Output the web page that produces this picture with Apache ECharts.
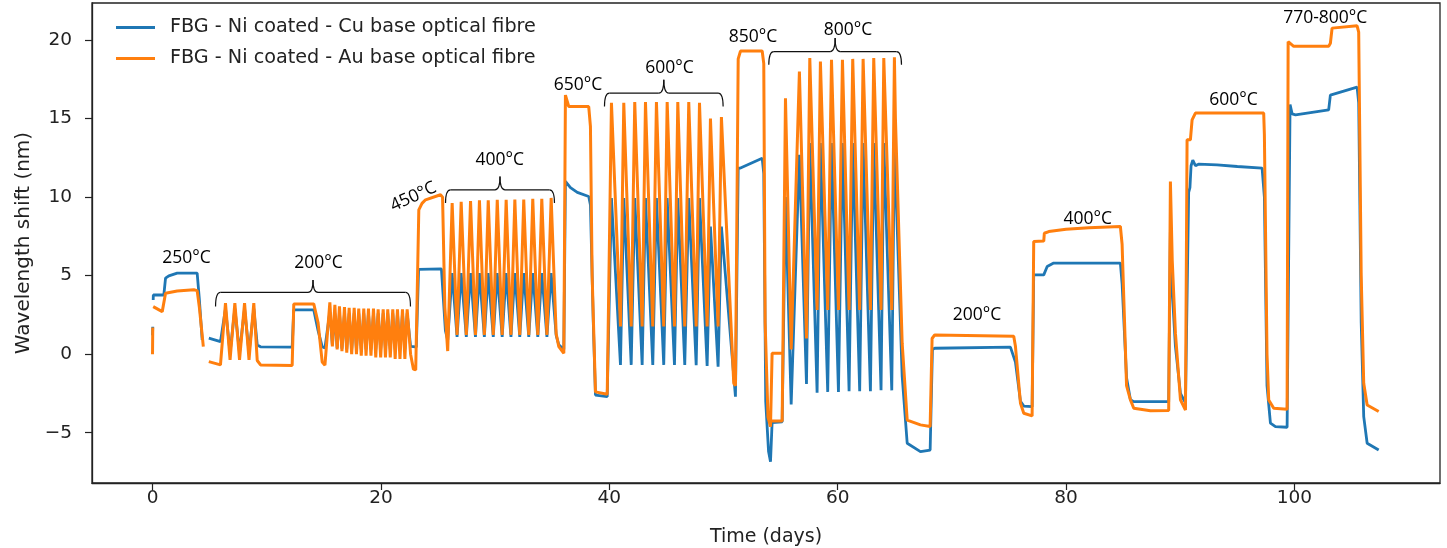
<!DOCTYPE html>
<html><head><meta charset="utf-8">
<script src="https://cdn.jsdelivr.net/npm/echarts@6/dist/echarts.min.js"></script>
<style>html,body{margin:0;padding:0;background:#fff}#c{width:1447px;height:548px}</style>
</head><body><div id="c"></div>
<script>
// ---- axis ticks ----
const xTicks = [0, 20, 40, 60, 80, 100];
const yTicks = [-5, 0, 5, 10, 15, 20];
const seriesNames = ['FBG - Ni coated - Cu base optical fibre', 'FBG - Ni coated - Au base optical fibre'];

// ---- Cu base fibre: [day, wavelength shift nm] ----
const cuData = [
 [0.00,1.2],[0.02,1.75],['-','-'],[0.06,3.45],[0.07,3.77],[0.99,3.77],[1.14,4.84],[1.43,4.99],[2.16,5.16],[3.91,5.16],[4.10,3.5],[4.35,0.91],['-','-'],
 [4.93,1.02],[5.95,0.80],[6.10,0.80],
 [6.39,2.9],[6.79,0.1],[7.21,2.9],[7.62,0.1],[8.06,2.9],[8.45,0.1],[8.87,2.9],
 [9.17,0.59],[9.46,0.47],[12.23,0.45],[12.37,2.82],[14.12,2.82],[14.5,1.5],[14.86,0.48],[15.1,0.4],
 [15.53,2.7],[15.75,0.6],[15.97,2.6],[16.17,0.4],[16.37,2.6],[16.59,0.35],[16.81,2.6],[17.01,0.3],[17.22,2.6],[17.44,0.3],[17.66,2.6],[17.86,0.3],
 [18.06,2.6],[18.28,0.3],[18.50,2.6],[18.70,0.3],[18.91,2.6],[19.13,0.3],[19.35,2.6],[19.55,0.3],[19.76,2.6],[19.98,0.3],[20.20,2.6],[20.40,0.3],
 [20.60,2.6],[20.82,0.3],[21.04,2.6],[21.25,0.3],[21.45,2.6],[21.67,0.3],[21.89,2.6],[22.10,0.3],[22.30,2.6],
 [22.6,0.5],[22.85,0.48],[23.1,0.45],
 [23.3,5.4],[25.3,5.43],[25.45,5.4],[25.65,1.5],[25.85,0.9],
 [26.24,5.16],[26.67,1.1],[27.03,5.16],[27.48,1.1],[27.85,5.16],[28.28,1.1],[28.63,5.16],[29.06,1.1],[29.40,5.16],[29.84,1.1],[30.19,5.16],[30.62,1.1],
 [30.97,5.16],[31.39,1.1],[31.73,5.16],[32.16,1.1],[32.51,5.16],[32.95,1.1],[33.30,5.16],[33.74,1.1],[34.09,5.16],[34.54,1.1],[34.91,5.16],
 [35.35,1.2],[35.58,0.6],[36.02,0.3],
 [36.16,11.0],[36.6,10.6],[37.2,10.3],[38.20,10.04],[38.35,9.5],[38.6,2.0],[38.79,-2.6],[39.82,-2.7],
 [40.19,9.94],[40.98,-0.68],[41.27,9.94],[41.92,-0.68],[42.23,9.94],[42.88,-0.68],[43.17,9.94],[43.81,-0.68],[44.13,9.94],[44.77,-0.68],
 [45.07,9.94],[45.71,-0.68],[46.00,9.94],[46.61,-0.68],[46.96,9.94],[47.61,-0.7],[47.90,9.94],[48.57,-0.75],[48.86,8.13],[49.53,-0.8],[49.82,8.13],
 [51.05,-2.7],
 [51.29,11.85],[51.49,11.85],[53.39,12.48],[53.53,11.5],[53.7,-3.0],[53.95,-6.2],[54.12,-6.84],[54.26,-4.35],[55.14,-4.3],
 [55.43,10.0],[55.93,-3.2],[56.65,12.7],[57.27,-1.9],[57.56,13.44],[58.20,-2.45],[58.49,13.44],[59.13,-2.4],[59.46,13.44],[60.07,-2.4],
 [60.42,13.44],[61.0,-2.35],[61.32,13.44],[61.93,-2.35],[62.23,13.44],[62.87,-2.35],[63.16,13.44],[63.8,-2.3],[64.04,13.44],[64.74,-2.3],[64.97,13.44],
 [65.65,-1.4],[66.09,-5.67],[67.25,-6.2],[68.1,-6.1],
 [68.3,0.3],[68.5,0.38],[75.13,0.45],[75.57,-0.5],[76.01,-3.0],[76.3,-3.3],[77.03,-3.34],
 [77.17,5.05],[78.05,5.05],[78.35,5.58],[78.92,5.8],[84.76,5.8],[84.91,4.5],[85.3,-1.5],[85.64,-2.9],[85.93,-3.02],[88.99,-3.02],
 [89.14,8.0],[89.3,4.0],[89.58,0.5],[90.02,-2.5],[90.46,-3.1],
 [90.6,-3.0],[90.74,10.3],[90.85,10.6],[90.95,12.0],[91.1,12.35],[91.33,12.0],[91.6,12.1],[93.23,12.06],[95.0,11.95],[97.17,11.85],
 [97.37,10.0],[97.6,-2.0],[97.9,-4.39],[98.34,-4.61],[99.36,-4.65],
 [99.45,-4.6],[99.62,15.9],[99.8,15.3],[100.1,15.24],[103.0,15.56],[103.15,16.5],[103.3,16.62],[105.49,17.0],
 [105.63,16.0],[105.85,2.0],[106.07,-3.97],[106.37,-5.67],[107.38,-6.1]
];

// ---- Au base fibre: [day, wavelength shift nm] ----
const auData = [
 [0.00,0.0],[0.02,1.7],['-','-'],[0.06,3.03],[0.85,2.71],[0.99,2.75],[1.14,3.88],[2.16,4.02],[3.62,4.1],[3.91,4.05],[4.10,3.0],[4.45,0.48],['-','-'],
 [4.93,-0.47],[5.95,-0.68],[6.10,-0.68],
 [6.39,3.25],[6.79,-0.36],[7.21,3.25],[7.62,-0.36],[8.06,3.25],[8.45,-0.36],[8.87,3.25],
 [9.17,-0.4],[9.46,-0.68],[12.23,-0.72],[12.37,3.2],[14.12,3.2],[14.5,2.0],[14.86,-0.5],[15.1,-0.7],
 [15.53,3.3],[15.75,0.5],[15.97,3.15],[16.17,0.3],[16.37,3.05],[16.59,0.2],[16.81,3.0],[17.01,0.1],[17.22,2.95],[17.44,0.0],[17.66,2.95],[17.86,0.0],
 [18.06,2.9],[18.28,-0.1],[18.50,2.9],[18.70,-0.1],[18.91,2.9],[19.13,-0.1],[19.35,2.9],[19.55,-0.2],[19.76,2.85],[19.98,-0.2],[20.20,2.85],[20.40,-0.2],
 [20.60,2.85],[20.82,-0.2],[21.04,2.85],[21.25,-0.3],[21.45,2.85],[21.67,-0.3],[21.89,2.85],[22.10,-0.3],[22.30,2.85],
 [22.6,0.0],[22.85,-0.95],[23.05,-1.0],
 [23.32,9.19],[23.6,9.6],[23.91,9.83],[25.22,10.15],[25.4,10.0],[25.6,3.0],[25.85,0.2],
 [26.24,9.62],[26.67,1.23],[27.03,9.7],[27.48,1.23],[27.85,9.75],[28.28,1.23],[28.63,9.8],[29.06,1.23],[29.40,9.8],[29.84,1.23],[30.19,9.83],[30.62,1.23],
 [30.97,9.83],[31.39,1.23],[31.73,9.85],[32.16,1.23],[32.51,9.85],[32.95,1.23],[33.30,9.9],[33.74,1.23],[34.09,9.9],[34.54,1.23],[34.91,9.95],
 [35.35,1.3],[35.58,0.48],[36.02,0.06],
 [36.16,16.5],[36.45,15.77],[38.20,15.77],[38.35,14.5],[38.5,5.0],[38.79,-2.4],[39.82,-2.55],
 [40.19,16.0],[40.98,1.76],[41.27,16.0],[41.92,1.76],[42.23,16.05],[42.88,1.76],[43.17,16.05],[43.81,1.76],[44.13,16.05],[44.77,1.76],
 [45.07,16.05],[45.71,1.76],[46.00,16.05],[46.61,1.76],[46.96,16.05],[47.61,1.76],[47.90,16.0],[48.57,1.76],[48.86,15.0],[49.53,1.76],[49.82,15.1],
 [50.90,-1.85],[51.05,-2.0],
 [51.29,18.8],[51.49,19.3],[53.39,19.3],[53.53,18.5],[53.65,2.0],[53.9,-4.0],[54.12,-4.61],
 [54.26,0.06],[55.14,0.06],['-','-'],[54.26,-4.25],[55.14,-4.25],
 [55.43,16.3],[55.93,0.3],[56.65,18.0],[57.27,1.0],[57.56,18.85],[58.20,2.82],[58.49,18.64],[59.13,2.82],[59.46,18.75],[60.07,2.82],
 [60.42,18.75],[61.0,2.82],[61.32,18.8],[61.93,2.82],[62.23,18.8],[62.87,2.82],[63.16,18.85],[63.8,2.82],[64.04,18.85],[64.74,2.82],[64.97,18.9],
 [65.06,15.0],[65.65,0.7],[66.09,-4.2],[67.25,-4.5],[68.1,-4.6],
 [68.27,1.0],[68.5,1.23],[75.42,1.15],[75.57,0.5],[76.01,-3.12],[76.30,-3.76],[77.03,-3.93],
 [77.17,7.17],[78.05,7.2],[78.1,7.7],[78.49,7.81],[80.0,7.95],[82.0,8.05],[84.76,8.13],[84.91,7.0],[85.3,-2.0],[85.64,-2.91],[85.93,-3.44],[87.39,-3.6],[88.99,-3.59],
 [89.14,11.0],[89.3,6.0],[89.58,1.34],[90.02,-2.9],[90.46,-3.55],
 [90.6,13.65],[90.89,13.65],[91.04,14.92],[91.33,15.35],[97.31,15.35],[97.37,14.0],[97.6,0.0],[97.75,-2.91],[98.19,-3.44],[99.36,-3.5],
 [99.45,19.9],[99.94,19.6],[103.0,19.6],[103.15,19.8],[103.3,20.76],[105.49,20.91],[105.63,20.5],[105.85,5.0],[106.07,-1.85],[106.37,-3.23],[107.38,-3.65]
];

// ---- temperature annotations (data coordinates) ----
const annotText  = ['250°C','200°C','450°C','400°C','650°C','600°C','850°C','800°C','200°C','400°C','600°C','770-800°C'];
const annotDay   = [2.98, 14.54, 22.85, 30.41, 37.26, 45.27, 52.58, 60.9, 72.2, 81.9, 94.66, 102.7];
const annotValue = [6.11, 5.80, 10.02, 12.35, 17.12, 18.22, 20.18, 20.66, 2.50, 8.62, 16.2, 21.4];
const annotRotate = [0, 0, 25, 0, 0, 0, 0, 0, 0, 0, 0, 0];

// ---- braces over cycling periods ----
const braceStart = [5.52, 25.66, 39.58, 53.97];
const braceEnd   = [22.59, 35.20, 49.97, 65.59];
const braceBase  = [3.03, 9.62, 15.77, 18.43];
const braceTop   = [3.94, 10.46, 16.62, 19.27];
const braceTip   = [4.73, 11.31, 17.47, 20.13];

const chart = echarts.init(document.getElementById('c'), null, {renderer: 'canvas'});
const minus = v => String(v).replace('-', '\u2212');
const tickFont = {fontFamily: 'DejaVu Sans', fontSize: 18.5, color: '#222'};
const option = {
  animation: false,
  backgroundColor: '#fff',
  grid: {left: 92, right: 7, top: 3, bottom: 65, containLabel: false, outerBoundsMode: 'none',
         show: true, borderColor: '#222', borderWidth: 1.3, backgroundColor: 'transparent'},
  legend: {
    data: seriesNames, orient: 'vertical', left: 116, top: 17, padding: 0, itemWidth: 39, itemHeight: 3, itemGap: 10,
    icon: 'rect', textStyle: {fontFamily: 'DejaVu Sans', fontSize: 19.2, color: '#222', lineHeight: 21, padding: [0, 0, 0, 10]}
  },
  xAxis: {
    type: 'value', min: -5.3, max: 112.75,
    name: 'Time (days)', nameLocation: 'middle', nameGap: 45,
    nameTextStyle: {fontFamily: 'DejaVu Sans', fontSize: 19, color: '#222'},
    axisLine: {show: true, onZero: false, lineStyle: {color: '#222', width: 1.3}},
    axisTick: {show: true, length: 7, lineStyle: {color: '#222', width: 1.2}, customValues: xTicks},
    axisLabel: Object.assign({margin: 6, customValues: xTicks, formatter: minus}, tickFont),
    splitLine: {show: false}
  },
  yAxis: {
    type: 'value', min: -8.2, max: 22.36,
    name: 'Wavelength shift (nm)', nameLocation: 'middle', nameGap: 58, nameRotate: 90,
    nameTextStyle: {fontFamily: 'DejaVu Sans', fontSize: 20, color: '#222'},
    axisLine: {show: true, onZero: false, lineStyle: {color: '#222', width: 1.3}},
    axisTick: {show: true, length: 7, lineStyle: {color: '#222', width: 1.2}, customValues: yTicks},
    axisLabel: Object.assign({margin: 20, customValues: yTicks, formatter: minus}, tickFont),
    splitLine: {show: false}
  },
  series: [
    {name: seriesNames[0], type: 'line', data: cuData, showSymbol: false, symbol: 'none', connectNulls: false,
     color: '#1f77b4', lineStyle: {color: '#1f77b4', width: 2.8}, z: 2},
    {name: seriesNames[1], type: 'line', data: auData, showSymbol: false, symbol: 'none', connectNulls: false,
     color: '#ff7f0e', lineStyle: {color: '#ff7f0e', width: 3}, z: 3},
    {type: 'custom', silent: true, z: 5,
     data: braceStart.map((s, i) => [s, braceEnd[i], braceBase[i], braceTop[i], braceTip[i]]),
     encode: {x: [0, 1], y: [2, 3, 4]},
     renderItem: function (params, api) {
       const l = api.coord([api.value(0), api.value(2)]);
       const r = api.coord([api.value(1), api.value(2)]);
       const yTop = api.coord([0, api.value(3)])[1];
       const yTip = api.coord([0, api.value(4)])[1];
       const xc = (l[0] + r[0]) / 2, yb = l[1], rr = 5;
       const st = {stroke: '#111', lineWidth: 1.2, fill: 'none'};
       return {type: 'group', children: [
         {type: 'bezierCurve', shape: {x1: l[0], y1: yb, x2: l[0] + rr, y2: yTop, cpx1: l[0], cpy1: yTop}, style: st},
         {type: 'line', shape: {x1: l[0] + rr, y1: yTop, x2: xc - rr, y2: yTop}, style: st},
         {type: 'bezierCurve', shape: {x1: xc - rr, y1: yTop, x2: xc, y2: yTip, cpx1: xc, cpy1: yTop}, style: st},
         {type: 'bezierCurve', shape: {x1: xc, y1: yTip, x2: xc + rr, y2: yTop, cpx1: xc, cpy1: yTop}, style: st},
         {type: 'line', shape: {x1: xc + rr, y1: yTop, x2: r[0] - rr, y2: yTop}, style: st},
         {type: 'bezierCurve', shape: {x1: r[0] - rr, y1: yTop, x2: r[0], y2: yb, cpx1: r[0], cpy1: yTop}, style: st}
       ]};
     }},
    {type: 'custom', silent: true, z: 6,
     data: annotDay.map((d, i) => [d, annotValue[i], i]),
     encode: {x: 0, y: 1},
     renderItem: function (params, api) {
       const p = api.coord([api.value(0), api.value(1)]);
       const i = api.value(2);
       return {type: 'text', x: p[0], y: p[1], rotation: annotRotate[i] * Math.PI / 180,
         style: {text: annotText[i], fill: '#000', fontFamily: 'Open Sans', fontSize: 17.5,
                 align: 'center', verticalAlign: 'middle', textAlign: 'center', textVerticalAlign: 'middle'}};
     }}
  ]
};
chart.setOption(option);
</script>
</body></html>
